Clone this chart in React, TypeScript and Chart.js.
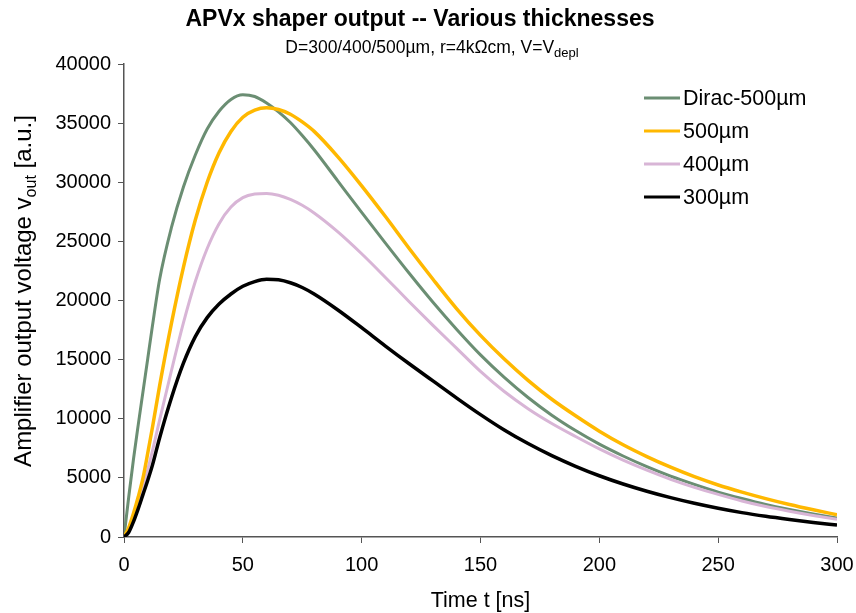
import React, { useEffect, useRef } from "react";
import { Chart, registerables } from "chart.js";

Chart.register(...registerables);

const FONT = '"Liberation Sans", Arial, Helvetica, sans-serif';

const titleText = "APVx shaper output -- Various thicknesses";
const subtitleMain = "D=300/400/500µm, r=4kΩcm, V=V";
const subtitleSub = "depl";
const yTitleMain = "Amplifier output voltage v";
const yTitleSub = "out";
const yTitleTail = " [a.u.]";
const xTitleText = "Time t [ns]";

const seriesLabels = ["Dirac-500µm", "500µm", "400µm", "300µm"];
const seriesColors = ["#6B8E73", "#FFB800", "#D8B5D6", "#000000"];

const timeNs = [0, 2, 4, 6, 8, 10, 12, 15, 20, 25, 30, 35, 40, 45, 50, 55, 60, 65, 70, 75, 80,
  90, 100, 110, 120, 130, 140, 150, 160, 170, 180, 190, 200, 210, 220, 230, 240, 250, 260, 270, 280, 290, 300];

const dirac500 = [0, 3400, 6600, 9500, 12300, 15100, 17900, 21800, 26200, 29600, 32300, 34500, 36000, 37000, 37400, 37250, 36700, 35950, 35050, 33950, 32750,
  30100, 27450, 24850, 22300, 19850, 17550, 15400, 13500, 11800, 10300, 9000, 7850, 6850, 5950, 5150, 4450, 3800, 3250, 2750, 2330, 1950, 1600];

const thick500 = [0, 800, 2000, 3400, 5000, 7100, 9300, 12800, 18100, 22800, 26800, 30000, 32500, 34300, 35500, 36100, 36300, 36150, 35750, 35100, 34300,
  32150, 29700, 27100, 24400, 21800, 19300, 17050, 15050, 13250, 11650, 10250, 8950, 7800, 6800, 5900, 5100, 4400, 3800, 3250, 2750, 2300, 1880];

const thick400 = [0, 600, 1500, 2700, 4100, 5700, 7300, 9900, 14100, 18100, 21600, 24400, 26500, 27900, 28700, 29000, 29050, 28900, 28550, 28050, 27400,
  25800, 23950, 21950, 19900, 17900, 15950, 14000, 12300, 10850, 9600, 8500, 7450, 6500, 5650, 4880, 4200, 3600, 3050, 2580, 2180, 1820, 1500];

const thick300 = [0, 400, 1300, 2400, 3600, 4800, 6100, 8400, 11800, 14700, 16950, 18550, 19700, 20550, 21200, 21600, 21800, 21750, 21500, 21100, 20550,
  19200, 17700, 16150, 14650, 13200, 11750, 10350, 9050, 7900, 6880, 5980, 5180, 4480, 3870, 3330, 2850, 2430, 2060, 1750, 1480, 1230, 1010];

const seriesValues = [dirac500, thick500, thick400, thick300];
const seriesWidths = [3, 3.5, 3, 3.5];
const seriesOrder = [4, 2, 3, 1];

const xTicks = [0, 50, 100, 150, 200, 250, 300];
const yTicks = [0, 5000, 10000, 15000, 20000, 25000, 30000, 35000, 40000];

function drawWithSub(ctx: CanvasRenderingContext2D, main: string, sub: string, tail: string,
  cx: number, baseline: number, size: number, subSize: number, subDrop: number) {
  ctx.font = `${size}px ${FONT}`;
  const w1 = ctx.measureText(main).width;
  const w3 = tail ? ctx.measureText(tail).width : 0;
  ctx.font = `${subSize}px ${FONT}`;
  const w2 = ctx.measureText(sub).width;
  const total = w1 + w2 + w3;
  let x = cx - total / 2;
  ctx.textAlign = "left";
  ctx.font = `${size}px ${FONT}`;
  ctx.fillText(main, x, baseline);
  x += w1;
  ctx.font = `${subSize}px ${FONT}`;
  ctx.fillText(sub, x, baseline + subDrop);
  x += w2;
  ctx.font = `${size}px ${FONT}`;
  if (tail) ctx.fillText(tail, x, baseline);
}

const textPlugin = {
  id: "customTexts",
  afterDraw(chart: any) {
    const ctx: CanvasRenderingContext2D = chart.ctx;
    const area = chart.chartArea;
    ctx.save();
    ctx.fillStyle = "#000";
    ctx.textBaseline = "alphabetic";

    ctx.font = `bold 23px ${FONT}`;
    ctx.textAlign = "center";
    ctx.fillText(titleText, 420, 26);

    drawWithSub(ctx, subtitleMain, subtitleSub, "", 432, 53, 17.5, 13, 4);

    ctx.font = `21.5px ${FONT}`;
    ctx.textAlign = "center";
    ctx.fillText(xTitleText, (area.left + area.right) / 2, 607);

    ctx.save();
    ctx.translate(31, 291);
    ctx.rotate(-Math.PI / 2);
    drawWithSub(ctx, yTitleMain, yTitleSub, yTitleTail, 0, 0, 24, 16, 5);
    ctx.restore();

    const lx0 = 644, lx1 = 680;
    const ly = [98, 131, 164, 197];
    ctx.textAlign = "left";
    ctx.textBaseline = "middle";
    ctx.font = `21.5px ${FONT}`;
    for (let i = 0; i < seriesLabels.length; i++) {
      ctx.strokeStyle = seriesColors[i];
      ctx.lineWidth = 3;
      ctx.beginPath();
      ctx.moveTo(lx0, ly[i]);
      ctx.lineTo(lx1, ly[i]);
      ctx.stroke();
      ctx.fillStyle = "#000";
      ctx.fillText(seriesLabels[i], 683, ly[i] + 1);
    }
    ctx.restore();
  },
};

export default function App() {
  const canvasRef = useRef<HTMLCanvasElement | null>(null);

  useEffect(() => {
    const canvas = canvasRef.current;
    if (!canvas) return;
    const datasets = seriesLabels.map((label, i) => ({
      label,
      data: timeNs.map((t, j) => ({ x: t, y: seriesValues[i][j] })),
      borderColor: seriesColors[i],
      backgroundColor: seriesColors[i],
      borderWidth: seriesWidths[i],
      pointRadius: 0,
      cubicInterpolationMode: "monotone" as const,
      fill: false,
      order: seriesOrder[i],
    }));

    const chart = new Chart(canvas, {
      type: "line",
      data: { datasets },
      plugins: [textPlugin],
      options: {
        responsive: false,
        animation: false,
        events: [],
        layout: { padding: { top: 64, right: 19, left: 0, bottom: 0 } },
        plugins: {
          legend: { display: false },
          tooltip: { enabled: false },
          title: { display: false },
        },
        scales: {
          x: {
            type: "linear",
            min: 0,
            max: 300,
            afterBuildTicks: (scale: any) => {
              scale.ticks = xTicks.map((v) => ({ value: v }));
            },
            afterFit: (scale: any) => {
              scale.height = 76;
              scale.paddingLeft = 0;
              scale.paddingRight = 0;
            },
            ticks: {
              color: "#000",
              font: { family: FONT, size: 20 },
              padding: 10,
              maxRotation: 0,
            },
            grid: {
              display: true,
              drawOnChartArea: false,
              drawTicks: true,
              tickLength: 6,
              color: "#555",
              lineWidth: 1,
            },
            border: { display: true, color: "#555", width: 1.5 },
          },
          y: {
            type: "linear",
            min: 0,
            max: 40000,
            afterBuildTicks: (scale: any) => {
              scale.ticks = yTicks.map((v) => ({ value: v }));
            },
            afterFit: (scale: any) => {
              scale.width = 124;
              scale.paddingTop = 0;
              scale.paddingBottom = 0;
            },
            ticks: {
              color: "#000",
              font: { family: FONT, size: 20 },
              padding: 7,
              callback: (v: any) => String(v),
            },
            grid: {
              display: true,
              drawOnChartArea: false,
              drawTicks: true,
              tickLength: 6,
              color: "#555",
              lineWidth: 1,
            },
            border: { display: true, color: "#555", width: 1.5 },
          },
        },
      },
    });
    return () => chart.destroy();
  }, []);

  return (
    <div style={{ position: "fixed", left: 0, top: 0, width: 856, height: 613, background: "#fff" }}>
      <canvas ref={canvasRef} width={856} height={613} style={{ display: "block", width: 856, height: 613 }} />
    </div>
  );
}
